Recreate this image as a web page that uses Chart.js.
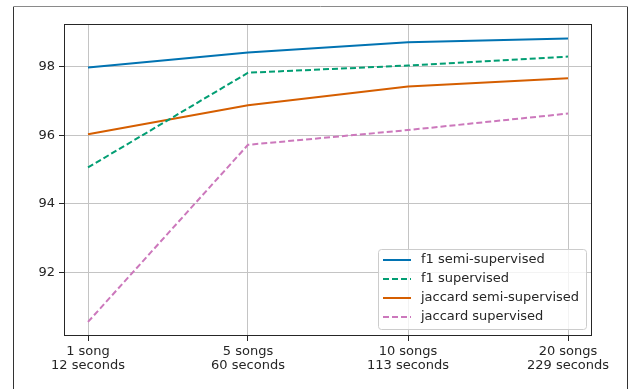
<!DOCTYPE html>
<html><head><meta charset="utf-8">
<script src="https://cdn.jsdelivr.net/npm/chart.js@4/dist/chart.umd.min.js"></script>
<style>html,body{margin:0;padding:0;background:#fff;}#wrap{width:628px;height:389px;position:relative;}</style>
</head><body><div id="wrap"><canvas id="c" width="628" height="389"></canvas></div>
<script>
const categories = [["1 song","12 seconds"],["5 songs","60 seconds"],["10 songs","113 seconds"],["20 songs","229 seconds"]];
const f1Semi = [97.97, 98.41, 98.71, 98.82];
const f1Sup = [95.06, 97.82, 98.03, 98.29];
const jacSemi = [96.03, 96.87, 97.42, 97.66];
const jacSup = [90.56, 95.72, 96.15, 96.63];
const yTicks = [92, 94, 96, 98];
const seriesNames = ["f1 semi-supervised","f1 supervised","jaccard semi-supervised","jaccard supervised"];

const FONT = "'DejaVu Sans', sans-serif";
const TXT = '#262626';
const pts = arr => arr.map((v,i)=>({x:i,y:v}));

const frame = {
  id:'frame',
  afterDraw(chart){
    const ctx = chart.ctx, a = chart.chartArea;
    ctx.save();
    ctx.strokeStyle = '#262626'; ctx.lineWidth = 1;
    ctx.strokeRect(Math.round(a.left)+0.5, Math.round(a.top)+0.5, Math.round(a.right-a.left)-1, Math.round(a.bottom-a.top)-1);
    ctx.strokeStyle = '#8a8a8a';
    ctx.beginPath(); ctx.moveTo(13.5, 400); ctx.lineTo(13.5, 6.5); ctx.lineTo(627.5, 6.5); ctx.lineTo(627.5, 400); ctx.stroke();
    ctx.strokeStyle = '#333';
    ctx.beginPath(); ctx.moveTo(13.5, 400); ctx.lineTo(13.5, 7); ctx.moveTo(627.5,7); ctx.lineTo(627.5,400); ctx.stroke();
    const bw = 208, bh = 80;
    const bx = a.right - 6 - bw, by = a.bottom - 7 - bh;
    ctx.fillStyle = 'rgba(255,255,255,0.8)';
    ctx.strokeStyle = '#cccccc';
    ctx.beginPath();
    if (ctx.roundRect) ctx.roundRect(bx+0.5, by+0.5, bw, bh, 3); else ctx.rect(bx+0.5,by+0.5,bw,bh);
    ctx.fill(); ctx.stroke();
    ctx.font = '13px ' + FONT; ctx.textBaseline = 'middle'; ctx.textAlign = 'left';
    chart.data.datasets.forEach((ds, i) => {
      const y = by + 11 + i*19;
      ctx.strokeStyle = ds.borderColor; ctx.lineWidth = 2;
      ctx.setLineDash(ds.borderDash || []);
      ctx.beginPath(); ctx.moveTo(bx+5, y); ctx.lineTo(bx+33, y); ctx.stroke();
      ctx.setLineDash([]);
      ctx.fillStyle = TXT; ctx.fillText(ds.label, bx+43, y);
    });
    ctx.restore();
  }
};

new Chart(document.getElementById('c'), {
  type: 'line',
  data: {
    datasets: [
      {label: seriesNames[0], data: pts(f1Semi), borderColor:'#0173B2', borderWidth:2},
      {label: seriesNames[1], data: pts(f1Sup), borderColor:'#029E73', borderWidth:2, borderDash:[6,3]},
      {label: seriesNames[2], data: pts(jacSemi), borderColor:'#D55E00', borderWidth:2},
      {label: seriesNames[3], data: pts(jacSup), borderColor:'#CC78BC', borderWidth:2, borderDash:[6,3]}
    ]
  },
  options: {
    responsive:false, animation:false, devicePixelRatio:1,
    layout:{padding:{left:0,right:36,top:24,bottom:0}},
    elements:{point:{radius:0}, line:{tension:0, fill:false}},
    plugins:{legend:{display:false}, tooltip:{enabled:false}},
    scales:{
      x:{type:'linear', min:-0.15, max:3.15,
        afterBuildTicks(s){ s.ticks = categories.map((c,i)=>({value:i})); },
        afterFit(s){ s.height = 53; },
        ticks:{autoSkip:false, maxRotation:0, padding:3, color:TXT, font:{family:FONT,size:13, lineHeight:1.12},
          callback:(v)=>categories[v]},
        grid:{color:'#c4c4c4', lineWidth:1, tickColor:'#262626', tickLength:5, drawTicks:true},
        border:{display:false}
      },
      y:{type:'linear', min:90.15, max:99.24,
        afterBuildTicks(s){ s.ticks = yTicks.map(v=>({value:v})); },
        afterFit(s){ s.width = 64; },
        ticks:{padding:4, color:TXT, font:{family:FONT,size:13}, callback:(v)=>String(v)},
        grid:{color:'#c4c4c4', lineWidth:1, tickColor:'#262626', tickLength:5},
        border:{display:false}
      }
    }
  },
  plugins:[frame]
});
</script></body></html>
